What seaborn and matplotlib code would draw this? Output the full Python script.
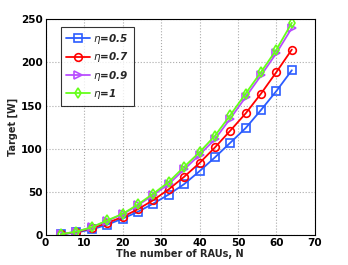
import matplotlib
matplotlib.use("Agg")
import matplotlib.pyplot as plt
import pandas as pd
import seaborn as sns

# number of RAUs
n_raus = [4, 8, 12, 16, 20, 24, 28, 32, 36, 40, 44, 48, 52, 56, 60, 64]

# target power [W] for each eta
eta_05 = [0.8, 3, 6.5, 12, 19, 27, 36.5, 47, 59, 74, 90, 107, 124, 145, 167, 191]
eta_07 = [0.9, 3.5, 8, 14, 21, 30, 40.5, 53, 67.5, 83.5, 101.5, 121, 141, 164, 189, 215]
eta_09 = [1, 4, 9, 16.5, 24, 34.5, 46.5, 59, 76, 93, 111, 135, 160, 185, 211, 240]
eta_10 = [1, 4, 9, 17, 24.5, 35.5, 48, 61.5, 79, 96, 115, 139, 164, 189, 215, 246]

labels = ["$\\eta$=0.5", "$\\eta$=0.7", "$\\eta$=0.9", "$\\eta$=1"]
colors = ["#2b5cff", "#ff0000", "#b94dff", "#66ff1a"]
markers = ["s", "o", ">", "d"]

df = pd.concat(
    [
        pd.DataFrame({"N": n_raus, "target": vals, "eta": lab})
        for vals, lab in zip([eta_05, eta_07, eta_09, eta_10], labels)
    ]
)

sns.set_theme(style="white")
plt.rcParams["font.family"] = ["DejaVu Sans"]

fig = plt.figure(figsize=(3.48, 2.65), dpi=100)
ax = fig.add_axes([0.131, 0.113, 0.774, 0.814])

for lab, col, mk in zip(labels, colors, markers):
    sns.lineplot(
        data=df[df["eta"] == lab],
        x="N",
        y="target",
        ax=ax,
        color=col,
        marker=mk,
        markersize=5.5,
        markerfacecolor="none",
        markeredgecolor=col,
        markeredgewidth=1.2,
        linewidth=1.3,
        label=lab,
    )

ax.set_xlim(0, 70)
ax.set_ylim(0, 250)
ax.set_xticks(range(0, 71, 10))
ax.set_yticks(range(0, 251, 50))
ax.grid(True, linestyle=":", color="#aaaaaa", linewidth=0.8)
ax.tick_params(direction="in", length=3, labelsize=7.5, pad=2, colors="black")
for t in ax.get_xticklabels() + ax.get_yticklabels():
    t.set_fontweight("bold")
for s in ax.spines.values():
    s.set_color("black")
    s.set_linewidth(0.8)

ax.set_xlabel("The number of RAUs, N", fontsize=7, fontweight="bold", labelpad=1)
ax.set_ylabel("Target [W]", fontsize=7, fontweight="bold", labelpad=2)

leg = ax.legend(
    loc="upper left",
    bbox_to_anchor=(0.059, 0.963),
    borderaxespad=0,
    prop={"size": 7.5, "weight": "bold", "style": "italic"},
    frameon=True,
    fancybox=False,
    edgecolor="black",
    handlelength=2.3,
    borderpad=0.45,
    labelspacing=0.42,
    handletextpad=0.3,
)
leg.get_frame().set_linewidth(0.8)

fig.savefig("out.png", dpi=100)
